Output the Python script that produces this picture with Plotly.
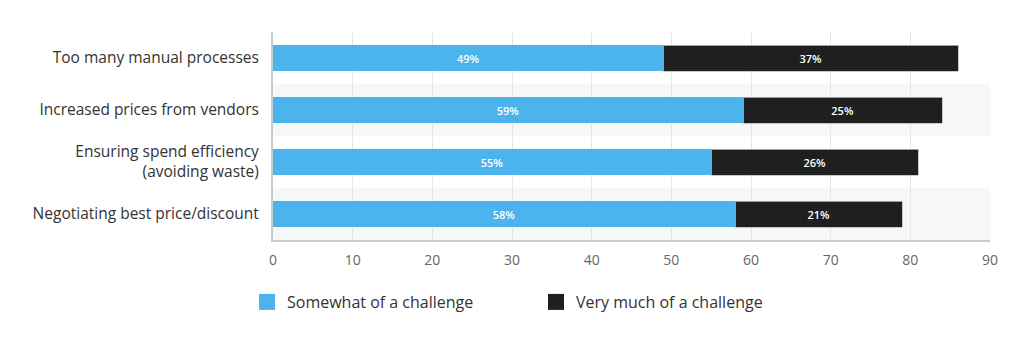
import plotly.graph_objects as go

categories = ["Too many manual processes", "Increased prices from vendors",
              "Ensuring spend efficiency<br>(avoiding waste)", "Negotiating best price/discount"]
somewhat = [49, 59, 55, 58]
very_much = [37, 25, 26, 21]
series_names = ["Somewhat of a challenge", "Very much of a challenge"]
x_ticks = [0, 10, 20, 30, 40, 50, 60, 70, 80, 90]

BLUE = "#4bb4ec"
BLACK = "#1f1f1f"
FONT = "Open Sans"

fig = go.Figure()
fig.add_trace(go.Bar(
    y=categories, x=somewhat, orientation="h", name=series_names[0],
    marker=dict(color=BLUE, line=dict(width=0)),
    texttemplate="%{x}%", textposition="inside", insidetextanchor="middle",
    textfont=dict(color="white", size=11, family=FONT, weight=600),
    width=0.5, showlegend=False,
))
fig.add_trace(go.Bar(
    y=categories, x=very_much, orientation="h", name=series_names[1],
    marker=dict(color=BLACK, line=dict(width=0.8, color="#bbbbbb")),
    texttemplate="%{x}%", textposition="inside", insidetextanchor="middle",
    textfont=dict(color="white", size=11, family=FONT, weight=600),
    width=0.5, showlegend=False,
))
# legend entries (square swatches)
for name, col in zip(series_names, [BLUE, BLACK]):
    fig.add_trace(go.Scatter(
        x=[None], y=[None], mode="markers", name=name,
        marker=dict(symbol="square", size=18, color=col), showlegend=True,
    ))

# alternating band backgrounds
for i in range(len(categories)):
    if i % 2 == 1:
        fig.add_shape(type="rect", xref="paper", yref="y",
                      x0=0, x1=1, y0=i - 0.5, y1=i + 0.5,
                      fillcolor="#f6f7f7", line=dict(width=0), layer="below")

fig.update_layout(
    width=1024, height=346,
    margin=dict(l=273, r=34, t=32, b=106),
    barmode="stack",
    plot_bgcolor="white", paper_bgcolor="white",
    font=dict(family=FONT, color="#333333"),
    showlegend=True,
    legend=dict(orientation="h", xref="container", x=247 / 1024, xanchor="left",
                yref="container", y=1 - 302 / 346, yanchor="middle",
                font=dict(size=16, color="#333333"), itemsizing="trace",
                traceorder="normal", entrywidth=244),
    xaxis=dict(range=[0, 90], tickvals=x_ticks, showgrid=True, gridcolor="#e6e6e6",
               gridwidth=1, zeroline=False, showline=True, linecolor="#c4cccf",
               linewidth=2, tickfont=dict(size=14, color="#666666"),
               ticks="", ticklabelstandoff=6),
    yaxis=dict(autorange="reversed", showline=True, linecolor="#c4cccf", linewidth=2,
               tickfont=dict(size=15.5, color="#333333"), ticks="",
               ticklabelstandoff=9, showgrid=False),
)

fig.write_html("out.html")
